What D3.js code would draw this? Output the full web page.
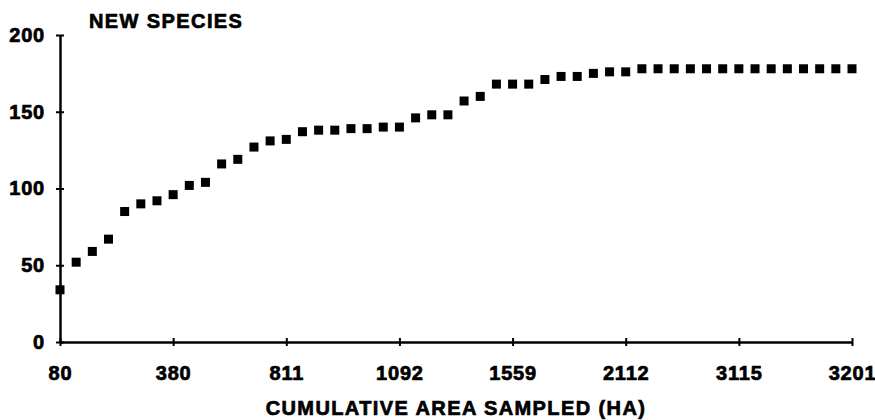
<!DOCTYPE html>
<html>
<head>
<meta charset="utf-8">
<script src="https://cdn.jsdelivr.net/npm/d3@7"></script>
<style>
  body { margin: 0; background: #fff; }
  text { font-family: "Liberation Sans", Arial, sans-serif; font-weight: bold; fill: #000; stroke: #000; stroke-width: 0.7px; }
</style>
</head>
<body>
<div class="chart"></div>
<script>
// new species found at each cumulative sampling step
const species = [34, 52, 59, 67, 85, 90, 92, 96, 102, 104,
                 116, 119, 127, 131, 132, 137, 138, 138, 139, 139,
                 140, 140, 146, 148, 148, 157, 160, 168, 168, 168,
                 171, 173, 173, 175, 176, 176, 178, 178, 178, 178,
                 178, 178, 178, 178, 178, 178, 178, 178, 178, 178];
// x labels (cumulative area, ha) and the sample step they sit on
const areaLabels = [80, 380, 811, 1092, 1559, 2112, 3115, 3201];
const labelSteps = [0, 7, 14, 21, 28, 35, 42, 49];
const yTicks = [0, 50, 100, 150, 200];

const width = 875, height = 420;
const margin = ({top: 35, right: 23, bottom: 78, left: 60});

const svg = d3.select(".chart").append("svg")
    .attr("width", width)
    .attr("height", height);

const xScale = d3.scaleLinear()
    .domain([0, species.length - 1])
    .range([margin.left, width - margin.right]);
const yScale = d3.scaleLinear()
    .domain([0, 200])
    .range([height - margin.bottom, margin.top]);

const labelOf = d3.scaleOrdinal().domain(labelSteps).range(areaLabels);

// axes
const xAxis = d3.axisBottom(xScale)
    .tickValues(labelSteps)
    .tickFormat(d => labelOf(d))
    .tickSizeInner(4)
    .tickSizeOuter(0)
    .tickPadding(20);
const yAxis = d3.axisLeft(yScale)
    .tickValues(yTicks)
    .tickSizeInner(3)
    .tickSizeOuter(0)
    .tickPadding(12);

const gx = svg.append("g")
    .attr("class", "axis x-axis")
    .attr("transform", `translate(0, ${yScale(0)})`)
    .call(xAxis);
const gy = svg.append("g")
    .attr("class", "axis y-axis")
    .attr("transform", `translate(${margin.left}, 0)`)
    .call(yAxis);

[gx, gy].forEach(g => {
    g.select(".domain").attr("stroke", "#000").attr("stroke-width", 2.5);
    g.selectAll(".tick line").attr("stroke", "#000").attr("stroke-width", 2);
    g.selectAll(".tick text")
        .attr("font-size", 20)
        .attr("letter-spacing", 0.8)
        .style("font-family", '"Liberation Sans", Arial, sans-serif')
        .style("font-weight", "bold");
});
// ticks cross the axis line
gx.selectAll(".tick line").attr("y1", -4).attr("y2", 4);
gy.selectAll(".tick line").attr("x1", -4).attr("x2", 4);

// markers
const size = 9;
svg.append("g")
    .selectAll("rect")
    .data(species)
    .enter()
    .append("rect")
    .attr("x", (d, i) => xScale(i) - size / 2)
    .attr("y", d => yScale(d) - size / 2)
    .attr("width", size)
    .attr("height", size)
    .attr("fill", "#000");

// titles
svg.append("text")
    .attr("x", 89)
    .attr("y", 28)
    .attr("font-size", 20)
    .attr("letter-spacing", 1.4)
    .text("NEW SPECIES");

svg.append("text")
    .attr("x", 456)
    .attr("y", 415)
    .attr("text-anchor", "middle")
    .attr("font-size", 20)
    .attr("letter-spacing", 1.4)
    .text("CUMULATIVE AREA SAMPLED (HA)");
</script>
</body>
</html>
